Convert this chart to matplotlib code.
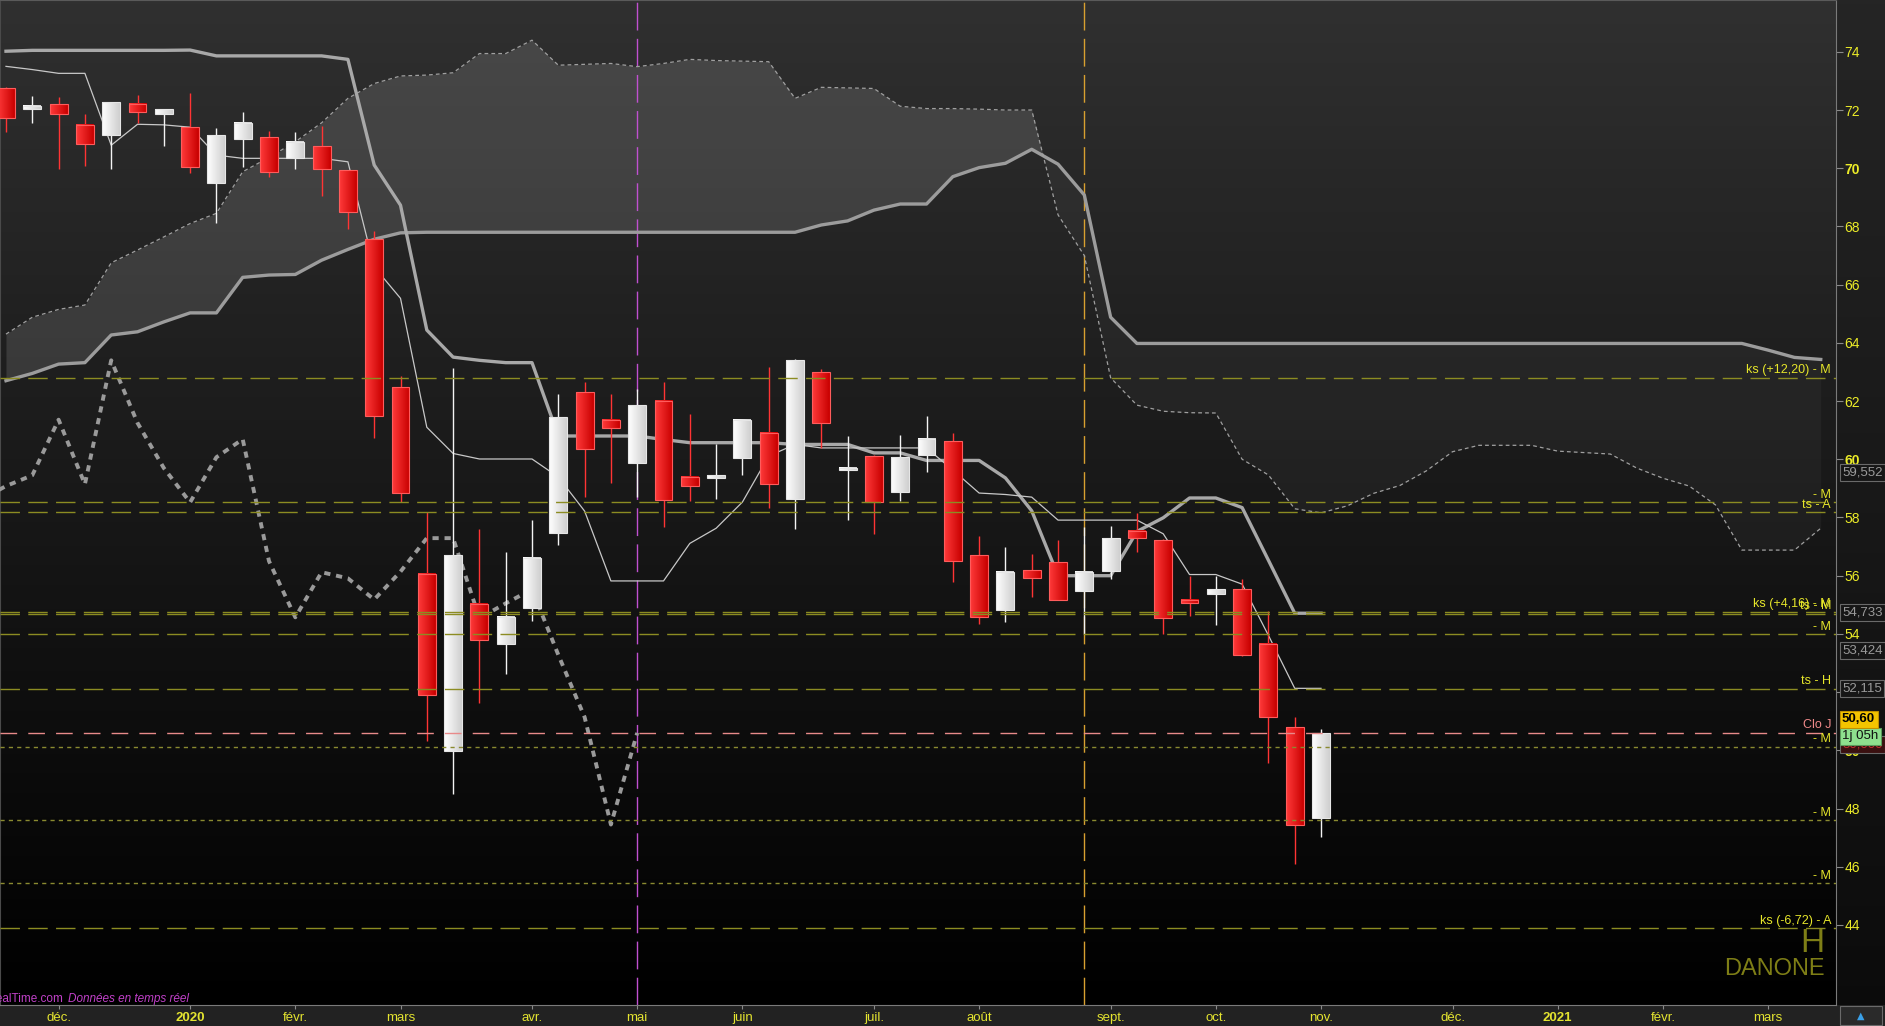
import numpy as np
import matplotlib.pyplot as plt
from matplotlib import font_manager
from matplotlib.colors import LinearSegmentedColormap
from matplotlib.patches import Rectangle

installed = {f.name for f in font_manager.fontManager.ttflist}
NARROW = 'Liberation Sans Narrow' if 'Liberation Sans Narrow' in installed else 'Liberation Sans'
plt.rcParams['font.family'] = ['Liberation Sans', 'DejaVu Sans']

# Danone, bougies hebdo (18/11/2019 -> 02/11/2020)
opens = [72.74, 72.02, 72.20, 71.48, 71.15, 72.20, 71.88, 71.40, 69.50, 70.99,
         71.06, 70.35, 70.76, 69.94, 67.56, 62.48, 56.07, 49.98, 55.04, 53.64,
         54.90, 57.48, 62.32, 61.36, 59.88, 62.00, 59.40, 59.37, 60.05, 60.90,
         58.65, 63.00, 59.62, 60.10, 58.89, 60.14, 60.62, 56.70, 54.81, 56.18,
         56.46, 55.47, 56.16, 57.55, 57.21, 55.16, 55.36, 55.53, 53.66, 50.81,
         47.68]
highs = [72.80, 72.48, 72.45, 71.86, 72.27, 72.51, 72.02, 72.59, 71.37, 71.94,
         71.29, 71.24, 71.45, 69.94, 67.84, 62.85, 58.20, 63.15, 57.61, 56.82,
         57.92, 62.23, 62.67, 62.25, 62.40, 62.64, 61.57, 60.51, 61.36, 63.17,
         63.45, 63.10, 60.80, 60.15, 60.85, 61.48, 60.92, 57.35, 57.00, 56.73,
         57.23, 57.66, 57.72, 58.17, 57.25, 56.00, 56.00, 55.88, 54.77, 51.14,
         50.75]
lows = [71.25, 71.54, 69.97, 70.07, 69.96, 71.54, 70.76, 69.82, 68.13, 70.05,
        69.71, 69.98, 69.06, 67.91, 60.72, 58.53, 50.32, 48.49, 51.61, 52.61,
        54.44, 57.05, 58.71, 59.17, 58.71, 57.68, 58.57, 58.63, 59.45, 58.34,
        57.62, 60.40, 57.93, 57.43, 58.55, 59.57, 55.77, 54.34, 54.42, 55.27,
        55.15, 54.01, 55.88, 56.82, 53.99, 54.62, 54.30, 53.25, 49.56, 46.08,
        47.02]
closes = [71.71, 72.13, 71.88, 70.82, 72.27, 71.92, 72.02, 70.05, 71.13, 71.54,
          69.88, 70.90, 69.99, 68.51, 61.50, 58.84, 51.90, 56.71, 53.78, 54.59,
          56.62, 61.46, 60.37, 61.08, 61.86, 58.59, 59.08, 59.45, 61.36, 59.14,
          63.40, 61.25, 59.70, 58.52, 60.07, 60.69, 56.50, 54.57, 56.12, 55.91,
          55.18, 56.14, 57.29, 57.29, 54.54, 55.05, 55.53, 53.28, 51.14, 47.45,
          50.60]

# Ichimoku
tenkan = [73.50, 73.39, 73.26, 73.26, 70.79, 71.51, 71.49, 71.41, 70.45, 70.34,
          70.34, 70.34, 70.34, 70.22, 66.61, 65.53, 61.10, 60.20, 60.01, 60.01,
          60.01, 59.39, 58.22, 55.82, 55.82, 55.82, 57.11, 57.63, 58.53, 60.11,
          60.51, 60.39, 60.39, 60.39, 60.39, 60.39, 59.63, 58.84, 58.79, 58.70,
          57.91, 57.91, 57.91, 57.91, 57.44, 56.04, 56.04, 55.71, 53.95, 52.13,
          52.13]
kijun = [74.02, 74.05, 74.05, 74.05, 74.05, 74.05, 74.05, 74.06, 73.86, 73.86,
         73.86, 73.86, 73.86, 73.74, 70.11, 68.73, 64.44, 63.51, 63.40, 63.32,
         63.32, 60.80, 60.80, 60.80, 60.80, 60.68, 60.57, 60.57, 60.57, 60.57,
         60.51, 60.51, 60.51, 60.22, 60.22, 59.96, 59.96, 59.96, 59.36, 58.23,
         56.00, 56.00, 56.00, 57.52, 57.99, 58.67, 58.67, 58.34, 56.53, 54.71,
         54.71]
span_a = [62.70, 62.95, 63.27, 63.32, 64.27, 64.38, 64.72, 65.03, 65.03, 66.25,
          66.33, 66.35, 66.84, 67.21, 67.56, 67.78, 67.80, 67.80, 67.80, 67.80,
          67.80, 67.80, 67.80, 67.80, 67.80, 67.80, 67.80, 67.80, 67.80, 67.80,
          67.80, 68.05, 68.19, 68.56, 68.77, 68.77, 69.71, 70.02, 70.17, 70.65,
          70.14, 69.08, 64.88, 63.98, 63.98, 63.98, 63.98, 63.98, 63.98, 63.98,
          63.98, 63.98, 63.98, 63.98, 63.98, 63.98, 63.98, 63.98, 63.98, 63.98,
          63.98, 63.98, 63.98, 63.98, 63.98, 63.98, 63.98, 63.75, 63.50, 63.43]
span_b = [64.30, 64.88, 65.15, 65.30, 66.75, 67.19, 67.64, 68.10, 68.45, 69.88,
          70.37, 70.91, 71.56, 72.40, 72.91, 73.17, 73.20, 73.28, 73.94, 73.94,
          74.40, 73.54, 73.57, 73.60, 73.49, 73.60, 73.74, 73.70, 73.68, 73.66,
          72.40, 72.78, 72.76, 72.74, 72.13, 72.05, 72.05, 72.03, 72.00, 72.00,
          68.40, 67.00, 62.80, 61.86, 61.65, 61.60, 61.59, 60.00, 59.46, 58.30,
          58.16, 58.40, 58.83, 59.10, 59.60, 60.26, 60.48, 60.48, 60.48, 60.28,
          60.23, 60.18, 59.70, 59.35, 59.08, 58.43, 56.88, 56.88, 56.88, 57.63]

month_pos = [2, 7, 11, 15, 20, 24, 28, 33, 37, 42, 46, 50, 55, 59, 63, 67]
month_labels = ['déc.', '2020', 'févr.', 'mars', 'avr.', 'mai', 'juin', 'juil.',
                'août', 'sept.', 'oct.', 'nov.', 'déc.', '2021', 'févr.', 'mars']

level_values = [62.80, 58.52, 58.19, 54.76, 54.70, 53.98, 52.115, 50.60, 50.12, 47.60, 45.44, 43.88]
level_labels = ['ks (+12,20) - M', '- M', 'ts - A', 'ks (+4,16) - M', 'ts - M', '- M',
                'ts - H', 'Clo J', '- M', '- M', '- M', 'ks (-6,72) - A']
level_kinds = ['long', 'long', 'long', 'long', 'long', 'long', 'long', 'clo', 'fine', 'fine', 'fine', 'long']

box_values = [59.552, 54.733, 53.424, 52.115]
box_labels = ['59,552', '54,733', '53,424', '52,115']

W, H = 1885, 1026
X0, X1 = -0.228, 69.58
Y0, Y1 = 41.25, 75.78

fig = plt.figure(figsize=(W / 100, H / 100), dpi=100)

# background of the whole picture (price scale strip)
bg = fig.add_axes([0, 0, 1, 1], zorder=-5)
bg.imshow(np.linspace(0, 1, 256).reshape(-1, 1), extent=[0, 1, 0, 1], origin='lower',
          cmap=LinearSegmentedColormap.from_list('s', ['#0b0b0b', '#252525']), aspect='auto')
bg.axis('off')
fig.patches.append(Rectangle((0, 0), 1, 21 / H, transform=fig.transFigure,
                             fc='#222222', ec='none', zorder=-1))

ax = fig.add_axes([0, 21 / H, 1836 / W, 1005 / H])
ax.set_facecolor('none')
ax.imshow(np.linspace(0, 1, 256).reshape(-1, 1), extent=[X0, X1, Y0, Y1], origin='lower',
          cmap=LinearSegmentedColormap.from_list('bg', ['#000000', '#303030']),
          aspect='auto', zorder=0)

# cloud
xs = np.arange(len(span_a))
a = np.array(span_a)
b = np.array(span_b)
ax.fill_between(xs, a, b, where=b >= a, interpolate=True, color='white', alpha=0.12, lw=0, zorder=1)
ax.fill_between(xs, a, b, where=b < a, interpolate=True, color='white', alpha=0.035, lw=0, zorder=1)
ax.plot(xs, span_a, color='#9c9c9c', lw=2.4, zorder=2, solid_joinstyle='round')
ax.plot(xs, span_b, color='#a0a0a0', lw=0.9, ls=(0, (3, 2.5)), zorder=2)

# vertical markers (26 and 9 periods back)
ax.axvline(24, color='#c050d0', lw=1, ls=(0, (20, 6)), zorder=1.5)
ax.axvline(41, color='#d8a030', lw=1, ls=(0, (20, 6)), zorder=1.5)

# chikou span
n = len(closes)
ax.plot(np.arange(n) - 26, closes, color='#9a9a9a', lw=2.8, ls=(0, (1.6, 1.5)), zorder=3)

# tenkan / kijun
ax.plot(np.arange(n), kijun, color='#a8a8a8', lw=2.4, zorder=3, solid_joinstyle='round')
ax.plot(np.arange(n), tenkan, color='#c8c8c8', lw=0.9, zorder=3)

# candles
red_cm = LinearSegmentedColormap.from_list('r', ['#ff3a3a', '#c80000'])
white_cm = LinearSegmentedColormap.from_list('w', ['#ffffff', '#cfcfcf'])
grad = np.linspace(0, 1, 32).reshape(1, -1)
bw = 0.68
for i in range(n):
    o, h, l, c = opens[i], highs[i], lows[i], closes[i]
    up = c >= o
    wick = '#f4f4f4' if up else '#ff3434'
    ax.vlines(i, l, h, color=wick, lw=1, zorder=4)
    lo, hi = min(o, c), max(o, c)
    if hi - lo < 0.07:
        mid = (hi + lo) / 2
        lo, hi = mid - 0.035, mid + 0.035
    ax.imshow(grad, extent=[i - bw / 2, i + bw / 2, lo, hi], aspect='auto',
              cmap=white_cm if up else red_cm, zorder=5, interpolation='bilinear')
    ax.add_patch(Rectangle((i - bw / 2, lo), bw, hi - lo, fill=False,
                           ec='#e6e6e6' if up else '#ff5c5c', lw=0.8, zorder=5.5))

# level lines with their labels
for val, lab, kind in zip(level_values, level_labels, level_kinds):
    if kind == 'long':
        ax.axhline(val, color='#8c8c22', lw=1, ls=(0, (14, 6)), zorder=6)
        tc = '#e6e62a'
    elif kind == 'fine':
        ax.axhline(val, color='#8a8a30', lw=1, ls=(0, (3, 3)), zorder=6)
        tc = '#e6e62a'
    else:
        ax.axhline(val, color='#e88a8a', lw=1, ls=(0, (12, 8)), zorder=6)
        tc = '#f08a8a'
    ax.annotate(lab, xy=(1831 / 1836, val), xycoords=ax.get_yaxis_transform(),
                xytext=(0, 1), textcoords='offset points', ha='right', va='bottom',
                fontsize=9, color=tc, zorder=7)

ax.set_xlim(X0, X1)
ax.set_ylim(Y0, Y1)

# price scale
ax.yaxis.tick_right()
ax.set_yticks(np.arange(44, 75, 2))
ax.set_yticklabels([str(v) for v in range(44, 75, 2)], fontsize=10, family=NARROW)
ax.tick_params(axis='y', colors='#8a8a8a', labelcolor='#ecec28', length=5, pad=1)
for t in ax.get_yticklabels():
    if t.get_text() in ('50', '60', '70'):
        t.set_fontweight('bold')

ax.set_xticks(month_pos)
ax.set_xticklabels(month_labels, fontsize=9.5, family=NARROW)
ax.tick_params(axis='x', colors='#8a8a8a', labelcolor='#e4e430', length=3, pad=2)
for t in ax.get_xticklabels():
    if t.get_text() in ('2020', '2021'):
        t.set_fontweight('bold')

for side, col in [('top', '#5a5a5a'), ('right', '#7a7a7a'), ('bottom', '#7a7a7a'), ('left', '#4a4a4a')]:
    ax.spines[side].set_color(col)

# boxes on the price scale
def price_box(y, text, fc, tc, ec, weight='normal', z=20):
    ax.text(1842 / 1836, y, text, transform=ax.get_yaxis_transform(), ha='left', va='center',
            fontsize=9.5, color=tc, fontweight=weight, family=NARROW, clip_on=False, zorder=z,
            bbox=dict(boxstyle='square,pad=0.18', fc=fc, ec=ec, lw=0.8))

for v, lab in zip(box_values, box_labels):
    price_box(v, lab, '#161616', '#9a9a9a', '#6a6a6a')
price_box(50.20, '50,000', '#3a1010', '#c03030', '#6a6a6a', z=19)
price_box(50.48, '1j 05h', '#8ee08e', '#101010', '#5a9a5a', z=21)
price_box(51.07, '50,60', '#f4c400', '#000000', '#c09000', weight='bold', z=22)

# name of the share
ax.text(1824 / 1836, 43.07, 'H', transform=ax.get_yaxis_transform(), ha='right',
        va='baseline', fontsize=24, color='#7e7e16', zorder=7)
ax.text(1825 / 1836, 42.28, 'DANONE', transform=ax.get_yaxis_transform(), ha='right',
        va='baseline', fontsize=17, color='#7e7e16', zorder=7)

# source line (cut by the left edge)
fig.text(63 / W, 24 / H, 'ProRealTime.com', ha='right', va='baseline', fontsize=8.5,
         color='#c040c8', family=NARROW)
fig.text(68 / W, 24 / H, 'Données en temps réel', ha='left', va='baseline', fontsize=8.5,
         color='#c040c8', style='italic', family=NARROW)

# small button at the bottom right
fig.patches.append(Rectangle((1840 / W, 1 / H), 42 / W, 19 / H, transform=fig.transFigure,
                             fc='#2a2a2a', ec='#6a6a6a', lw=0.8))
fig.text(1861 / W, 10 / H, '▲', ha='center', va='center', fontsize=7, color='#3aa0e8',
         family='DejaVu Sans')

fig.savefig('out.png', dpi=100, facecolor='#1a1a1a')
